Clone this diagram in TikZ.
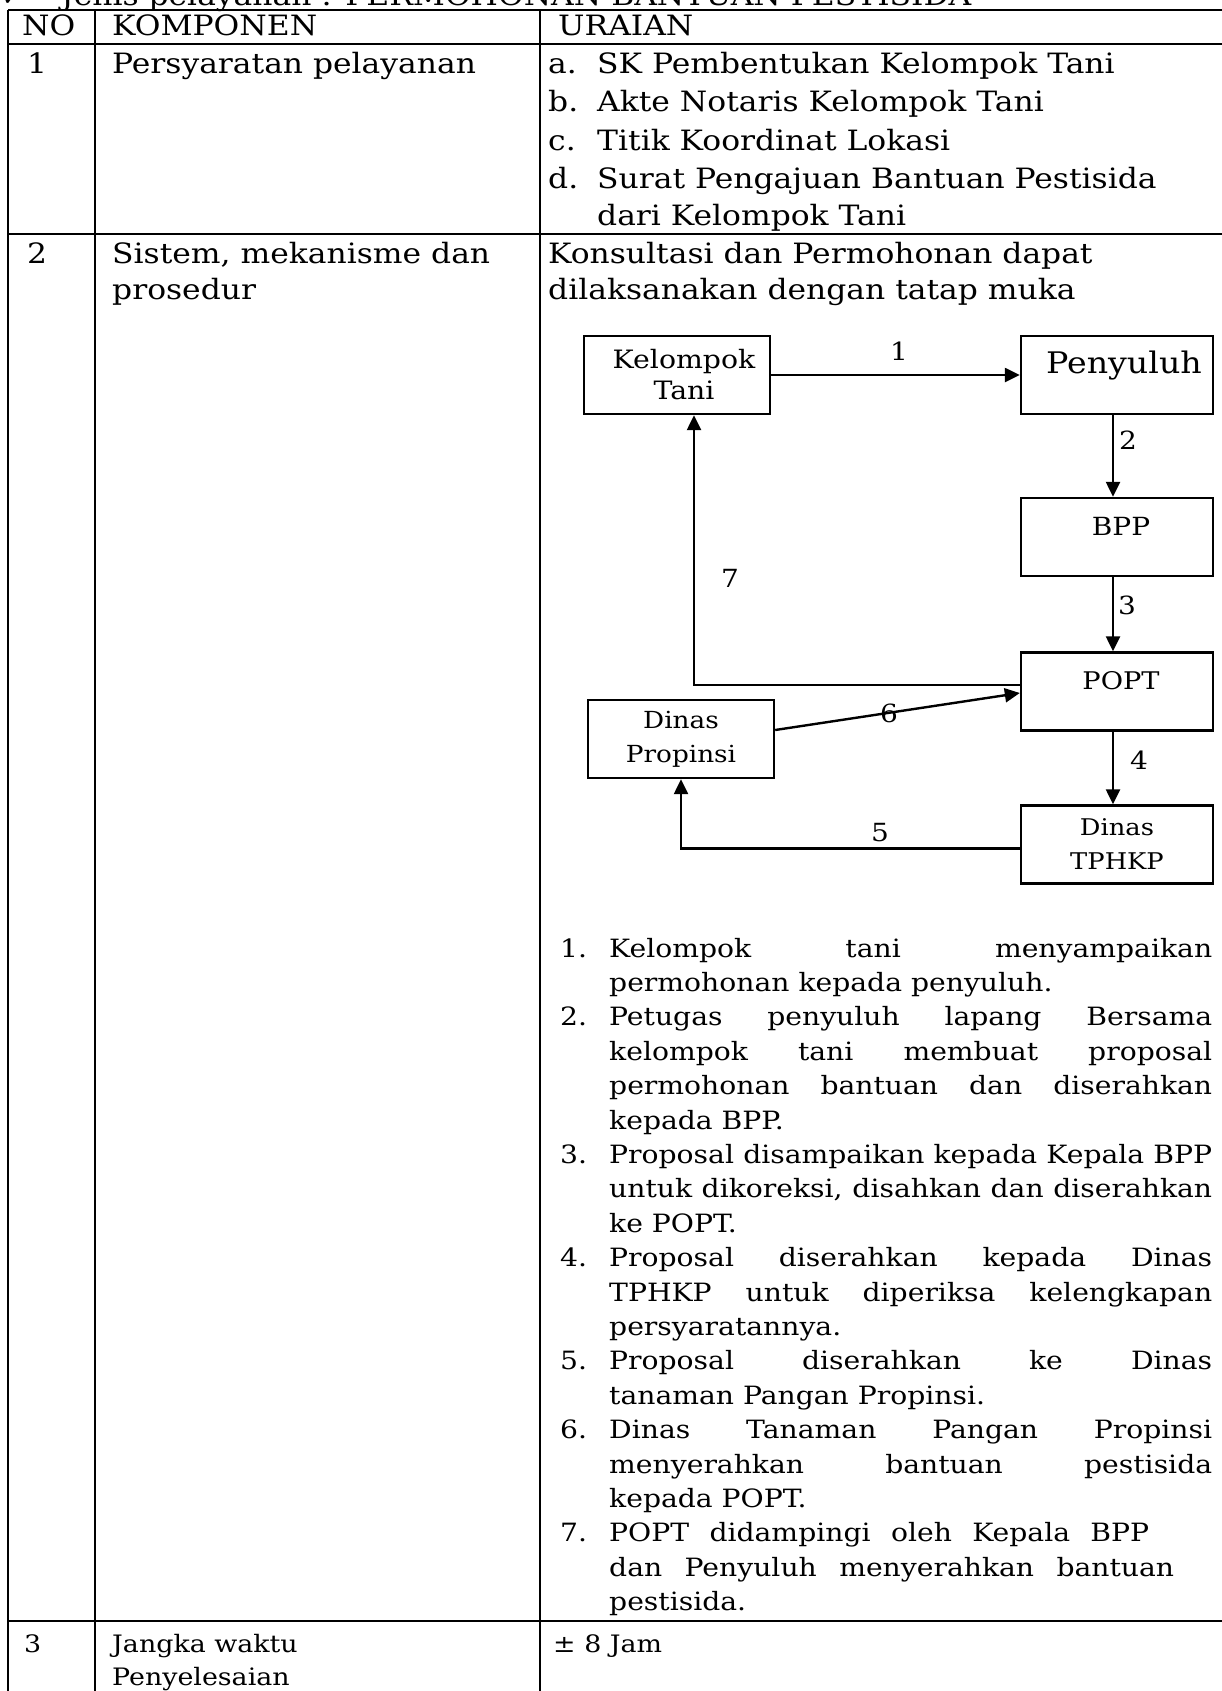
\documentclass[tikz,border=0pt]{standalone}
\usepackage{fontspec}
\setmainfont{DejaVu Serif}[FakeStretch=1.12]
\newfontfamily\tickfont{DejaVu Sans}
\usetikzlibrary{arrows.meta}

% justified line of the numbered procedure list
\newcommand{\jl}[1]{\makebox[603pt][s]{#1}}

\begin{document}
\begin{tikzpicture}[x=1pt,y=-1pt,
  rule/.style={line width=2.6pt},
  cell/.style={anchor=base west, inner sep=0pt, font=\fontsize{28}{37.5}\selectfont},
  item/.style={anchor=base west, inner sep=0pt, font=\fontsize{25.2}{34.4}\selectfont},
  foot/.style={anchor=base west, inner sep=0pt, font=\fontsize{24}{33}\selectfont},
  flowbox/.style={draw, line width=2.4pt, inner sep=0pt, minimum height=78pt, align=center},
  raised/.style={text height=21pt, text depth=25pt},
  flow/.style={line width=2.4pt, -{Triangle[length=15pt,width=14pt]}},
  num/.style={inner sep=0pt, font=\fontsize{25}{30}\selectfont}
]
\useasboundingbox (0,0) rectangle (1222,1691);
\clip (0,0) rectangle (1222,1691);

% page title (cut by the top edge)
\node[cell, font=\tickfont\fontsize{22}{24}\selectfont] (tick) at (2,6) {✓};
\node[cell, font=\fontsize{28}{30}\selectfont] (title) at (61,6) {Jenis pelayanan : PERMOHONAN BANTUAN PESTISIDA};

% table rules
\draw[rule] (8,10) -- (1240,10);
\draw[rule] (8,44) -- (1240,44);
\draw[rule] (8,234) -- (1240,234);
\draw[rule] (8,1621) -- (1240,1621);
\draw[rule] (8,10) -- (8,1710);
\draw[rule] (95,10) -- (95,1710);
\draw[rule] (540,10) -- (540,1710);

% header
\node[cell] (hno) at (22,36) {NO};
\node[cell] (hkomp) at (112,36) {KOMPONEN};
\node[cell] (hur) at (558,36) {URAIAN};

% row 1
\node[cell] (n1) at (27,74) {1};
\node[cell] (k1) at (112,74) {Persyaratan pelayanan};
\node[cell] (ra) at (548,74) {a.};
\node[cell] (ta) at (597,74) {SK Pembentukan Kelompok Tani};
\node[cell] (rb) at (548,112) {b.};
\node[cell] (tb) at (597,112) {Akte Notaris Kelompok Tani};
\node[cell] (rc) at (548,150) {c.};
\node[cell] (tc) at (597,150) {Titik Koordinat Lokasi};
\node[cell] (rd) at (548,188) {d.};
\node[cell] (td) at (597,188) {Surat Pengajuan Bantuan Pestisida};
\node[cell] (td2) at (597,225) {dari Kelompok Tani};

% row 2
\node[cell] (n2) at (27,263) {2};
\node[cell] (k2) at (112,263) {Sistem, mekanisme dan};
\node[cell] (k2b) at (112,299) {prosedur};
\node[cell] (u2) at (548,263) {Konsultasi dan Permohonan dapat};
\node[cell] (u2b) at (548,299) {dilaksanakan dengan tatap muka};

% flow chart
\node[flowbox, minimum width=186pt, font=\fontsize{25.3}{31}\selectfont] (kt) at (677,375) {\hspace*{14pt}Kelompok\\\hspace*{14pt}Tani};
\node[flowbox, raised, minimum width=192pt, font=\fontsize{29.7}{30}\selectfont] (peny) at (1117,375) {\hspace*{14pt}Penyuluh};
\node[flowbox, raised, minimum width=192pt, font=\fontsize{25}{30}\selectfont] (bpp) at (1117,537) {\hspace*{8pt}BPP};
\node[flowbox, raised, minimum width=192pt, font=\fontsize{24.3}{30}\selectfont] (popt) at (1117,691.5) {\hspace*{8pt}POPT};
\node[flowbox, minimum width=186pt, font=\fontsize{23.5}{34}\selectfont] (dp) at (681,739) {Dinas\\Propinsi};
\node[flowbox, minimum width=192pt, font=\fontsize{23}{34}\selectfont] (tphkp) at (1117,844.5) {Dinas\\TPHKP};

\coordinate (p6) at ([yshift=-1.5pt]popt.west);
\coordinate (d6) at ([yshift=9pt]dp.east);
\coordinate (p7) at ([yshift=6.5pt]popt.west);
\coordinate (k7) at ([xshift=17pt]kt.south);
\coordinate (t5) at ([yshift=-4pt]tphkp.west);
\coordinate (ps) at ([xshift=-4pt]peny.south);
\coordinate (bn) at ([xshift=-4pt]bpp.north);
\coordinate (bs) at ([xshift=-4pt]bpp.south);
\coordinate (pn) at ([xshift=-4pt]popt.north);
\coordinate (pp) at ([xshift=-4pt]popt.south);
\coordinate (tn) at ([xshift=-4pt]tphkp.north);

\draw[flow] (kt.east) -- (peny.west);
\draw[flow] (ps) -- (bn);
\draw[flow] (bs) -- (pn);
\draw[flow] (pp) -- (tn);
\draw[flow] (t5) -| (dp.south);
\draw[flow] (d6) -- (p6);
\draw[flow] (p7) -| (k7);

\node[num] (l1) at (899,351) {1};
\node[num] (l2) at (1128,440) {2};
\node[num] (l3) at (1127,605) {3};
\node[num] (l4) at (1139,760) {4};
\node[num] (l5) at (880,833) {5};
\node[num] (l6) at (889,713) {6};
\node[num] (l7) at (730,578) {7};

% procedure list
\node[item] (s1n) at (560,957) {1.};
\node[item] (s1a) at (609,957) {\jl{Kelompok tani menyampaikan}};
\node[item] (s1b) at (609,991.4) {permohonan kepada penyuluh.};
\node[item] (s2n) at (560,1025.8) {2.};
\node[item] (s2a) at (609,1025.8) {\jl{Petugas penyuluh lapang Bersama}};
\node[item] (s2b) at (609,1060.2) {\jl{kelompok tani membuat proposal}};
\node[item] (s2c) at (609,1094.6) {\jl{permohonan bantuan dan diserahkan}};
\node[item] (s2d) at (609,1129) {kepada BPP.};
\node[item] (s3n) at (560,1163.4) {3.};
\node[item] (s3a) at (609,1163.4) {\jl{Proposal disampaikan kepada Kepala BPP}};
\node[item] (s3b) at (609,1197.8) {\jl{untuk dikoreksi, disahkan dan diserahkan}};
\node[item] (s3c) at (609,1232.2) {ke POPT.};
\node[item] (s4n) at (560,1266.6) {4.};
\node[item] (s4a) at (609,1266.6) {\jl{Proposal diserahkan kepada Dinas}};
\node[item] (s4b) at (609,1301) {\jl{TPHKP untuk diperiksa kelengkapan}};
\node[item] (s4c) at (609,1335.4) {persyaratannya.};
\node[item] (s5n) at (560,1369.8) {5.};
\node[item] (s5a) at (609,1369.8) {\jl{Proposal diserahkan ke Dinas}};
\node[item] (s5b) at (609,1404.2) {tanaman Pangan Propinsi.};
\node[item] (s6n) at (560,1438.6) {6.};
\node[item] (s6a) at (609,1438.6) {\jl{Dinas Tanaman Pangan Propinsi}};
\node[item] (s6b) at (609,1473) {\jl{menyerahkan bantuan pestisida}};
\node[item] (s6c) at (609,1507.4) {kepada POPT.};
\node[item] (s7n) at (560,1541.8) {7.};
\node[item] (s7a) at (609,1541.8) {\makebox[540pt][s]{POPT didampingi oleh Kepala BPP}};
\node[item] (s7b) at (609,1576.2) {\makebox[565pt][s]{dan Penyuluh menyerahkan bantuan}};
\node[item] (s7c) at (609,1610.6) {pestisida.};

% row 3
\node[foot] (n3) at (24,1652) {3};
\node[foot] (k3) at (112,1652) {Jangka waktu};
\node[foot] (k3b) at (112,1685) {Penyelesaian};
\node[foot] (u3) at (553,1652) {± 8 Jam};
\end{tikzpicture}
\end{document}
